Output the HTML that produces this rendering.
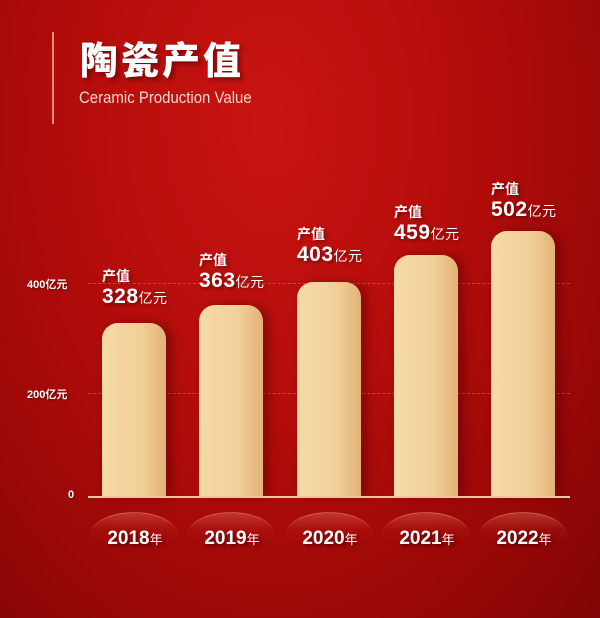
<!DOCTYPE html>
<html><head><meta charset="utf-8"><style>
body{margin:0;}
#c{position:relative;width:600px;height:618px;overflow:hidden;
background:radial-gradient(ellipse at 45% 20%,#c81411 0%,#b50d0b 40%,#990807 75%,#800605 100%);
font-family:"Liberation Sans","Noto Sans CJK SC",sans-serif;color:#fff;}
.a{position:absolute;}
.bar{position:absolute;width:64px;border-radius:16px 16px 0 0;
background:linear-gradient(90deg,#f6dba6 0%,#f2d09a 60%,#e3b277 100%);box-shadow:6px 0 10px rgba(80,0,0,.45);}
.lab{position:absolute;text-shadow:2px 2px 3px rgba(60,0,0,.5);}
.lab .t{font-size:14px;font-weight:bold;line-height:16px;}
.lab .n{font-size:21px;font-weight:bold;line-height:22px;letter-spacing:0.5px;margin-top:2px}
.lab .n span{font-size:14px;font-weight:normal;}
.yl{position:absolute;font-size:11px;font-weight:bold;text-shadow:1px 1px 2px rgba(0,0,0,.4)}
.grid{position:absolute;left:88px;width:482px;border-top:1px dashed rgba(230,120,110,.5);}
.yr{position:absolute;width:110px;text-align:center;font-size:19px;font-weight:bold;top:528px;text-shadow:2px 2px 3px rgba(40,0,0,.6)}
.yr span{font-size:13px;font-weight:normal}
.arc{position:absolute;top:512px;width:88px;height:36px;border-radius:44px 44px 0 0/24px 24px 0 0;
border-top:1px solid rgba(240,150,130,.5);
background:linear-gradient(180deg,rgba(235,120,100,.4) 0%,rgba(190,40,30,.18) 45%,rgba(150,10,10,0) 85%);}
</style></head><body><div id="c">
<div class="a" style="left:52px;top:32px;width:2px;height:92px;background:#e98a78"></div>
<div class="a" style="left:80px;top:30px;font-size:38px;font-weight:900;letter-spacing:3px;text-shadow:3px 3px 4px rgba(60,0,0,.5)">陶瓷产值</div>
<div class="a" style="left:79px;top:88px;font-size:17px;color:#f4d9d2;transform:scaleX(0.88);transform-origin:left">Ceramic Production Value</div>

<div class="grid" style="top:283px"></div>
<div class="grid" style="top:393px"></div>
<div class="yl" style="left:27px;top:276px">400亿元</div>
<div class="yl" style="left:27px;top:386px">200亿元</div>
<div class="yl" style="left:68px;top:489px">0</div>

<div class="arc" style="left:90px"></div>
<div class="arc" style="left:187px"></div>
<div class="arc" style="left:285px"></div>
<div class="arc" style="left:382px"></div>
<div class="arc" style="left:479px"></div>

<div class="bar" style="left:102px;top:323px;height:174px"></div>
<div class="bar" style="left:199px;top:305px;height:192px"></div>
<div class="bar" style="left:297px;top:282px;height:215px"></div>
<div class="bar" style="left:394px;top:255px;height:242px"></div>
<div class="bar" style="left:491px;top:231px;height:266px"></div>
<div class="a" style="left:88px;top:496px;width:482px;height:2px;background:#e6c9a0"></div>

<div class="lab" style="left:102px;top:268px"><div class="t">产值</div><div class="n">328<span>亿元</span></div></div>
<div class="lab" style="left:199px;top:252px"><div class="t">产值</div><div class="n">363<span>亿元</span></div></div>
<div class="lab" style="left:297px;top:226px"><div class="t">产值</div><div class="n">403<span>亿元</span></div></div>
<div class="lab" style="left:394px;top:204px"><div class="t">产值</div><div class="n">459<span>亿元</span></div></div>
<div class="lab" style="left:491px;top:181px"><div class="t">产值</div><div class="n">502<span>亿元</span></div></div>

<div class="yr" style="left:80px">2018<span>年</span></div>
<div class="yr" style="left:177px">2019<span>年</span></div>
<div class="yr" style="left:275px">2020<span>年</span></div>
<div class="yr" style="left:372px">2021<span>年</span></div>
<div class="yr" style="left:469px">2022<span>年</span></div>
</div></body></html>
